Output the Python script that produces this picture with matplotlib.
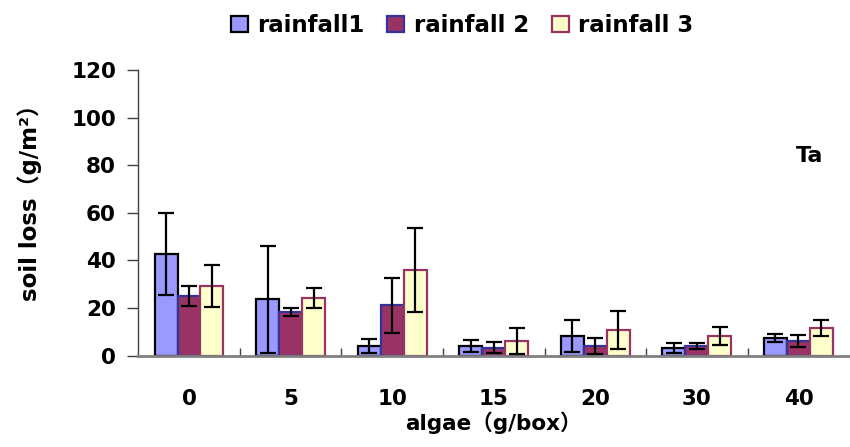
import matplotlib
matplotlib.use('Agg')
import matplotlib.pyplot as plt
import numpy as np

plt.rcParams['font.family'] = ['DejaVu Sans', 'Noto Sans CJK JP']
plt.rcParams['font.weight'] = 'bold'

algae = ['0', '5', '10', '15', '20', '30', '40']
rain1 = [42.8, 23.6, 4.2, 4.2, 8.3, 3.2, 7.5]
rain1_err = [17.3, 22.6, 3.0, 2.5, 6.7, 2.0, 1.7]
rain2 = [25.1, 18.4, 21.1, 3.4, 4.1, 4.1, 6.1]
rain2_err = [4.2, 1.7, 11.4, 2.2, 3.4, 1.1, 2.5]
rain3 = [29.3, 24.3, 36.1, 6.1, 10.8, 8.3, 11.7]
rain3_err = [8.8, 4.2, 17.7, 5.6, 8.0, 3.7, 3.4]

labels = ['rainfall1', 'rainfall 2', 'rainfall 3']
fills = ['#9999FF', '#993366', '#FFFFCC']
edges = ['#000000', '#333399', '#993366']

fig = plt.figure(figsize=(8.5, 4.47), dpi=100)
ax = fig.add_axes([0.1626, 0.2043, 0.8365, 0.6391])

x = np.arange(len(algae))
w = 0.226
series = [(rain1, rain1_err), (rain2, rain2_err), (rain3, rain3_err)]
handles = []
for i, (vals, errs) in enumerate(series):
    b = ax.bar(x + (i - 1) * w, vals, w, color=fills[i], edgecolor=edges[i],
               linewidth=1.6, label=labels[i], zorder=2)
    ax.errorbar(x + (i - 1) * w, vals, yerr=errs, fmt='none', ecolor='black',
                elinewidth=1.6, capsize=6, capthick=1.6, zorder=3)
    handles.append(b)

ax.set_xlim(-0.5, len(algae) - 0.5)
ax.set_ylim(0, 120)
ax.set_yticks(np.arange(0, 121, 20))
ax.set_xticks(x)
ax.set_xticklabels(algae)
ax.set_xticks(np.arange(0.5, len(algae) - 1, 1.0), minor=True)
ax.tick_params(axis='x', which='major', length=0, pad=24, labelsize=15.5)
ax.tick_params(axis='x', which='minor', direction='in', length=6, width=1,
               color='#404040')
ax.tick_params(axis='y', direction='out', length=8, width=1, color='#404040',
               pad=8, labelsize=15.5)

for s in ['top', 'right']:
    ax.spines[s].set_visible(False)
ax.spines['left'].set_color('#404040')
ax.spines['left'].set_linewidth(1)
ax.spines['bottom'].set_color('#808080')
ax.spines['bottom'].set_linewidth(2)

ax.set_xlabel('algae（g/box）', fontsize=15.5, fontweight='bold', labelpad=2)
ax.set_ylabel('soil loss（g/m²）', fontsize=16.5, fontweight='bold')
ax.yaxis.set_label_coords(-0.135, 0.555)

ax.text(0.944, 0.70, 'Ta', transform=ax.transAxes, fontsize=16,
        fontweight='bold', ha='center', va='center')

fig.legend(handles=handles, labels=labels, loc='upper center',
           bbox_to_anchor=(462 / 850, 1.015), ncol=3, frameon=False,
           fontsize=16.5, handlelength=0.75, handleheight=0.75,
           handletextpad=0.4, columnspacing=1.0)

fig.savefig('out.png', dpi=100)
